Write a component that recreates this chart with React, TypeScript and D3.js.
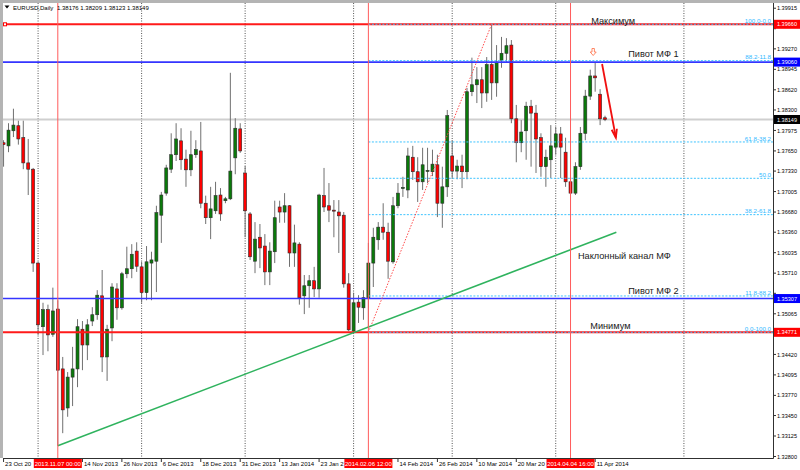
import React from "react";
import * as d3 from "d3";

const W = 800;
const H = 470;

// Daily EURUSD bars, first bar = 23 Oct 2013
const opens = [
  1.3778, 1.3773, 1.3797, 1.3805, 1.3786, 1.3746, 1.3736, 1.3587, 1.3486, 1.3513,
  1.3474, 1.3514, 1.3419, 1.3357, 1.3406, 1.3419, 1.3482, 1.3457, 1.3495, 1.3505,
  1.3535, 1.3438, 1.3484, 1.3546, 1.3516, 1.357, 1.3578, 1.3606, 1.3581, 1.354,
  1.3587, 1.359, 1.3663, 1.3698, 1.3736, 1.3759, 1.3781, 1.3752, 1.3735, 1.3759,
  1.3765, 1.3682, 1.3659, 1.367, 1.3695, 1.3686, 1.3689, 1.3754, 1.38, 1.373,
  1.3665, 1.359, 1.3628, 1.3614, 1.3573, 1.3605, 1.3676, 1.3668, 1.3678, 1.3603,
  1.3617, 1.3535, 1.3551, 1.3559, 1.3546, 1.3694, 1.3678, 1.3671, 1.3668, 1.3663,
  1.3554, 1.3479, 1.3525, 1.3516, 1.3532, 1.3587, 1.3624, 1.3644, 1.3636, 1.3589,
  1.3678, 1.3706, 1.3703, 1.3755, 1.3732, 1.3716, 1.3733, 1.3732, 1.3743, 1.3682,
  1.3708, 1.3757, 1.3733, 1.3741, 1.3732, 1.3859, 1.387, 1.3878, 1.3857, 1.3902,
  1.3873, 1.3909, 1.392, 1.3933, 1.3816, 1.3778, 1.3797, 1.3836, 1.3825, 1.3786,
  1.374, 1.3751, 1.3771, 1.3792, 1.3763, 1.3716, 1.3698, 1.374, 1.3793, 1.3852,
  1.3884, 1.3855, 1.38176,
];
const highs = [
  1.3782, 1.3809, 1.3832, 1.3813, 1.3813, 1.3784, 1.3738, 1.3589, 1.3524, 1.3521,
  1.3548, 1.3528, 1.3438, 1.3414, 1.3454, 1.3498, 1.3495, 1.3498, 1.3517, 1.3544,
  1.3576, 1.3489, 1.3555, 1.3555, 1.3573, 1.3613, 1.3617, 1.362, 1.3589, 1.3614,
  1.3605, 1.3678, 1.37, 1.3743, 1.3793, 1.3809, 1.3801, 1.3767, 1.3797, 1.3782,
  1.3811, 1.3694, 1.3708, 1.3716, 1.3706, 1.3692, 1.3889, 1.3817, 1.3809, 1.3741,
  1.3668, 1.3652, 1.3649, 1.3633, 1.362, 1.3686, 1.3686, 1.3698, 1.3679, 1.3648,
  1.362, 1.3568, 1.3568, 1.3581, 1.3697, 1.3738, 1.3714, 1.3687, 1.3687, 1.3668,
  1.3571, 1.354, 1.3536, 1.3544, 1.3619, 1.3643, 1.3652, 1.3682, 1.3651, 1.3692,
  1.3714, 1.3724, 1.377, 1.3773, 1.3755, 1.377, 1.377, 1.3767, 1.3759, 1.374,
  1.383, 1.3782, 1.3751, 1.3759, 1.3865, 1.3913, 1.3898, 1.3898, 1.3914, 1.3966,
  1.3933, 1.3946, 1.3944, 1.3941, 1.3838, 1.3814, 1.3843, 1.3846, 1.3838, 1.3793,
  1.3767, 1.3806, 1.3803, 1.3803, 1.3786, 1.3767, 1.3747, 1.3803, 1.3862, 1.3894,
  1.3906, 1.3863, 1.38209,
];
const lows = [
  1.374, 1.3763, 1.3787, 1.3775, 1.3736, 1.3695, 1.3573, 1.3473, 1.3441, 1.3447,
  1.347, 1.3297, 1.3317, 1.3343, 1.336, 1.339, 1.3417, 1.3433, 1.3487, 1.3497,
  1.3414, 1.34, 1.3463, 1.3497, 1.3513, 1.3563, 1.3563, 1.3573, 1.3524, 1.3528,
  1.3528, 1.3541, 1.3619, 1.3694, 1.373, 1.3749, 1.3735, 1.3708, 1.3725, 1.3754,
  1.3674, 1.3649, 1.3625, 1.3665, 1.3654, 1.3682, 1.3687, 1.3728, 1.3762, 1.3628,
  1.3592, 1.3571, 1.3579, 1.3552, 1.3552, 1.3587, 1.3651, 1.3651, 1.3581, 1.3581,
  1.3521, 1.3506, 1.3516, 1.3533, 1.3532, 1.3668, 1.3652, 1.3628, 1.3603, 1.3548,
  1.3479, 1.3477, 1.3492, 1.3497, 1.3486, 1.3549, 1.3608, 1.3624, 1.3562, 1.3586,
  1.3674, 1.3692, 1.369, 1.3719, 1.3684, 1.3703, 1.3714, 1.3725, 1.366, 1.3643,
  1.3692, 1.3722, 1.372, 1.3706, 1.372, 1.3852, 1.3841, 1.3833, 1.3843, 1.3846,
  1.3851, 1.3897, 1.3906, 1.3809, 1.3747, 1.3763, 1.3751, 1.374, 1.373, 1.3724,
  1.3708, 1.3722, 1.3759, 1.3722, 1.3708, 1.3671, 1.3695, 1.3735, 1.3782, 1.3846,
  1.3859, 1.3806, 1.38123,
];
const closes = [
  1.3775, 1.3798, 1.3806, 1.3784, 1.3746, 1.3736, 1.3587, 1.3489, 1.3513, 1.3473,
  1.3511, 1.3417, 1.3354, 1.3406, 1.3419, 1.3486, 1.3457, 1.3489, 1.3505, 1.3536,
  1.3438, 1.3482, 1.3549, 1.3516, 1.357, 1.3578, 1.3601, 1.3582, 1.354, 1.3589,
  1.3592, 1.3667, 1.3695, 1.3738, 1.3759, 1.3784, 1.3751, 1.3735, 1.3759, 1.3767,
  1.3682, 1.3659, 1.3673, 1.3694, 1.3665, 1.3689, 1.3733, 1.3801, 1.3765, 1.367,
  1.3597, 1.3625, 1.3611, 1.3573, 1.3606, 1.3659, 1.3668, 1.3678, 1.3603, 1.3619,
  1.3532, 1.3551, 1.3559, 1.3546, 1.3695, 1.3676, 1.3671, 1.367, 1.3662, 1.3554,
  1.3481, 1.3524, 1.3517, 1.3532, 1.3587, 1.3628, 1.3644, 1.3636, 1.359, 1.3678,
  1.3698, 1.3707, 1.3757, 1.3732, 1.3716, 1.3743, 1.3734, 1.3744, 1.3682, 1.3708,
  1.3821, 1.3733, 1.3741, 1.3732, 1.3859, 1.387, 1.3878, 1.3857, 1.3902, 1.3873,
  1.3906, 1.392, 1.3932, 1.3816, 1.3778, 1.3795, 1.3836, 1.3825, 1.3784, 1.374,
  1.3755, 1.3773, 1.3792, 1.3771, 1.3716, 1.3698, 1.374, 1.3793, 1.3852, 1.3884,
  1.3881, 1.3816, 1.38149,
];

const firstDate = "2013-10-23";
const holidays = ["2013-12-25", "2014-01-01"];

const priceTicks = [
  1.39915, 1.3959, 1.3927, 1.38945, 1.3862, 1.383, 1.37975, 1.3765, 1.3733, 1.37005,
  1.3668, 1.3636, 1.36035, 1.3571, 1.3539, 1.35065, 1.3474, 1.3442, 1.34095, 1.3377,
  1.3345, 1.33125, 1.328,
];

// horizontal level lines
const levelNames = ["Максимум", "Пивот МФ 1", "Пивот МФ 2", "Минимум"];
const levelPrices = [1.3966, 1.3906, 1.35307, 1.34771];
const levelColors = ["#ff1a1a", "#3535ff", "#3535ff", "#ff1a1a"];

// price-axis highlighted labels
const markPrices = [1.3966, 1.3906, 1.38149, 1.35307, 1.34771];
const markColors = ["#ff0000", "#0000ff", "#000000", "#0000ff", "#ff0000"];

// text objects: text, bar, price
const noteTexts = ["Максимум", "Пивот МФ 1", "Наклонный канал МФ", "Пивот МФ 2", "Минимум"];
const noteBars = [119.2, 126.7, 116.5, 126.7, 119.0];
const notePrices = [1.3966, 1.39137, 1.35935, 1.35379, 1.34824];

// vertical lines
const vBars = [11, 74, 115];
const vLabels = ["2013.11.07 00:00", "2014.02.06 12:00", "2014.04.04 16:00"];

// grid (period separators)
const gridBars = [7, 28, 49, 71, 91, 112, 138];

// Fibonacci retracement
const fibBars = [74, 99];
const fibPrices = [1.34771, 1.3966];
const fibLevels = [0, 11.8, 38.2, 50, 61.8, 88.2, 100];
const fibLabels = ["0.0-100.0", "11.8-88.2", "38.2-61.8", "50.0", "61.8-38.2", "88.2-11.8", "100.0-0.0"];

// trend line (channel)
const trendBars = [11, 124.3];
const trendPrices = [1.3297, 1.3636];

// arrow
const arrowBars = [121.4, 124.2];
const arrowPrices = [1.3903, 1.3786];
const markerBar = 119.6;
const markerPrice = 1.3922;

const symbolTitle = "EURUSD,Daily";

function buildDates(count: number): Date[] {
  const out: Date[] = [];
  const d = new Date(firstDate + "T00:00:00Z");
  const fmt = d3.utcFormat("%Y-%m-%d");
  while (out.length < count) {
    const wd = d.getUTCDay();
    if (wd !== 0 && wd !== 6 && !holidays.includes(fmt(d))) out.push(new Date(d));
    d.setUTCDate(d.getUTCDate() + 1);
  }
  return out;
}

const FONT = "'Liberation Sans', Arial, sans-serif";

let measureCtx: CanvasRenderingContext2D | null = null;
function textWidth(s: string, size: number): number {
  if (!measureCtx && typeof document !== "undefined") {
    measureCtx = document.createElement("canvas").getContext("2d");
  }
  if (!measureCtx) return s.length * size * 0.52;
  measureCtx.font = `${size}px 'Liberation Sans', Arial, sans-serif`;
  return measureCtx.measureText(s).width;
}
// visible part of a label that ends under a covering red time label
function fitText(s: string, size: number, maxW: number): string {
  let t = s;
  while (t.length > 1 && textWidth(t, size) > maxW) t = t.slice(0, -1);
  return t.trimEnd();
}

export default function App() {
  const n = opens.length;
  const L = 3,
    R = 773,
    T = 3,
    B = 458;
  const x = d3.scaleLinear().domain([0, 156]).range([3.57, 772.65]);
  const y = d3.scaleLinear().domain([1.32776, 1.39998]).range([B, T]);
  const dates = buildDates(n);
  const fmtDate = d3.utcFormat("%-d %b %Y");
  const dateTicks = d3.range(0, n, 8);
  const boxHalf = 24;
  const boxes = vBars.map((b) => [x(b) - boxHalf, x(b) + boxHalf]);
  const dateSize = 6;

  // date labels: drop the ones hidden under a red time label, cut the partially covered ones
  const dateItems = dateTicks
    .map((k) => {
      const sx = x(k) + 1.5;
      const hidden = boxes.some(([a, b]) => sx >= a - 1 && sx <= b);
      const nextBox = boxes.find(([a]) => a > sx);
      const limit = nextBox ? nextBox[0] : W;
      const full = fmtDate(dates[k]);
      const label = fitText(full, dateSize, limit - sx - 0.5);
      return { k, sx, hidden, label };
    })
    .filter((d) => !d.hidden);

  const fibY = (lv: number) => y(fibPrices[0] + (lv / 100) * (fibPrices[1] - fibPrices[0]));

  const ax0 = x(arrowBars[0]),
    ay0 = y(arrowPrices[0]),
    ax1 = x(arrowBars[1]),
    ay1 = y(arrowPrices[1]);
  const ang = Math.atan2(ay1 - ay0, ax1 - ax0);
  const headLen = 9;
  const h1 = [ax1 - headLen * Math.cos(ang - 0.3), ay1 - headLen * Math.sin(ang - 0.3)];
  const h2 = [ax1 - headLen * Math.cos(ang + 0.3), ay1 - headLen * Math.sin(ang + 0.3)];

  const last = n - 1;

  return (
    <svg
      width={W}
      height={H}
      style={{ position: "absolute", left: 0, top: 0, background: "#fff" }}
      fontFamily={FONT}
    >
      <defs>
        <clipPath id="plot">
          <rect x={L} y={T} width={R - L} height={B - T} />
        </clipPath>
      </defs>
      <rect x={0} y={0} width={W} height={H} fill="#fff" />

      <g clipPath="url(#plot)">
        {/* grid */}
        {gridBars.map((b, i) => (
          <line key={"g" + i} x1={x(b)} x2={x(b)} y1={T} y2={B} stroke="#555" strokeWidth={1} strokeDasharray="1 1.5" />
        ))}
        {/* bid line */}
        <line x1={L} x2={R} y1={y(closes[last])} y2={y(closes[last])} stroke="#cfcfcf" strokeWidth={2} />

        {/* candles */}
        {opens.map((o, i) => {
          const c = closes[i];
          const cx = x(i);
          const yo = y(o),
            yc = y(c);
          const top = Math.min(yo, yc);
          const h = Math.max(Math.abs(yo - yc), 1);
          const bull = c >= o;
          return (
            <g key={"c" + i}>
              <line x1={cx} x2={cx} y1={y(highs[i])} y2={y(lows[i])} stroke="#707070" strokeWidth={1} />
              <rect
                x={cx - 1.5}
                y={top}
                width={3}
                height={h}
                fill={bull ? "#0a7a0a" : "#ff0000"}
                stroke="#2b2b2b"
                strokeWidth={0.6}
              />
            </g>
          );
        })}

        {/* horizontal level lines */}
        {levelPrices.map((p, i) => (
          <line
            key={"h" + i}
            x1={L}
            x2={R}
            y1={y(p)}
            y2={y(p)}
            stroke={levelColors[i]}
            strokeWidth={levelColors[i] === "#ff1a1a" ? 2 : 1.6}
          >
            <title>{levelNames[i]}</title>
          </line>
        ))}
        <rect x={3.5} y={y(levelPrices[0]) - 1.5} width={3} height={3} fill="#fff" stroke="#ff0000" strokeWidth={1} />

        {/* fibonacci levels */}
        {fibLevels.map((lv, i) => (
          <line
            key={"f" + i}
            x1={x(fibBars[0])}
            x2={R}
            y1={fibY(lv)}
            y2={fibY(lv)}
            stroke="#3ec3ff"
            strokeWidth={1}
            strokeDasharray="2 1.5"
          />
        ))}
        <line
          x1={x(fibBars[0])}
          y1={y(fibPrices[0])}
          x2={x(fibBars[1])}
          y2={y(fibPrices[1])}
          stroke="#ff4a4a"
          strokeWidth={1}
          strokeDasharray="1.5 1.5"
        />

        {/* trend line */}
        <line
          x1={x(trendBars[0])}
          y1={y(trendPrices[0])}
          x2={x(trendBars[1])}
          y2={y(trendPrices[1])}
          stroke="#2fb35e"
          strokeWidth={1.6}
        />

        {/* vertical lines */}
        {vBars.map((b, i) => (
          <line key={"v" + i} x1={x(b)} x2={x(b)} y1={T} y2={B} stroke="#ff5c5c" strokeWidth={1} />
        ))}

        {/* arrow */}
        <line x1={ax0} y1={ay0} x2={ax1} y2={ay1} stroke="#f01010" strokeWidth={1.8} />
        <polyline
          points={`${h1[0]},${h1[1]} ${ax1},${ay1} ${h2[0]},${h2[1]}`}
          fill="none"
          stroke="#f01010"
          strokeWidth={1.8}
        />
        <path
          transform={`translate(${x(markerBar)},${y(markerPrice)})`}
          d="M-1.2,-3.5 L1.2,-3.5 L1.2,0 L3,0 L0,3.5 L-3,0 L-1.2,0 Z"
          fill="#fff"
          stroke="#ff7a55"
          strokeWidth={0.9}
        />

        {/* fib labels */}
        {fibLevels.map((lv, i) => (
          <text key={"fl" + i} x={771} y={fibY(lv) - 1.2} textAnchor="end" fontSize={6.2} fill="#2fb8ff">
            {fibLabels[i]}
          </text>
        ))}

        {/* notes */}
        {noteTexts.map((t, i) => (
          <text key={"n" + i} x={x(noteBars[i])} y={y(notePrices[i])} fontSize={9.2} fill="#1a1a1a">
            {t}
          </text>
        ))}

        {/* header */}
        <path d="M4.5,5.5 L9.5,5.5 L7,8.5 Z" fill="#000" />
        <text x={13} y={10} fontSize={6} fill="#000">
          {symbolTitle}
        </text>
        <text x={57} y={10} fontSize={6} fill="#000">
          {[opens[last], highs[last], lows[last], closes[last]].map((v) => v.toFixed(5)).join(" ")}
        </text>
      </g>

      {/* frame */}
      <rect x={0} y={0} width={W} height={3} fill="#b4b4b4" />
      <rect x={0} y={0} width={3} height={B} fill="#b4b4b4" />
      <line x1={R + 0.5} x2={R + 0.5} y1={T} y2={B + 0.5} stroke="#303030" strokeWidth={1} />
      <line x1={L} x2={R + 0.5} y1={B + 0.5} y2={B + 0.5} stroke="#303030" strokeWidth={1} />

      {/* price axis */}
      {priceTicks.map((p, i) => (
        <g key={"pt" + i}>
          <line x1={R} x2={R + 3} y1={y(p)} y2={y(p)} stroke="#303030" />
          {markPrices.some((m) => Math.abs(y(m) - y(p)) < 6) ? null : (
            <text x={777} y={y(p)} dy="0.35em" fontSize={6} fill="#000" textLength={20} lengthAdjust="spacingAndGlyphs">
              {p.toFixed(5)}
            </text>
          )}
        </g>
      ))}
      {markPrices.map((p, i) => (
        <g key={"mp" + i}>
          <rect x={774} y={y(p) - 4.5} width={26} height={9} fill={markColors[i]} />
          <text x={777} y={y(p)} dy="0.35em" fontSize={6} fill="#fff" textLength={20} lengthAdjust="spacingAndGlyphs">
            {p.toFixed(5)}
          </text>
        </g>
      ))}

      {/* time axis */}
      {dateItems.map((d) => (
        <g key={"dt" + d.k}>
          <line x1={x(d.k)} x2={x(d.k)} y1={B} y2={B + 4} stroke="#303030" />
          <text x={d.sx} y={465.5} fontSize={dateSize} fill="#000">
            {d.label}
          </text>
        </g>
      ))}
      {vBars.map((b, i) => (
        <g key={"vl" + i}>
          <rect x={x(b) - boxHalf} y={459} width={boxHalf * 2} height={9} fill="#ff0000" />
          <text x={x(b)} y={465.8} textAnchor="middle" fontSize={6} fill="#fff">
            {vLabels[i]}
          </text>
        </g>
      ))}
    </svg>
  );
}
